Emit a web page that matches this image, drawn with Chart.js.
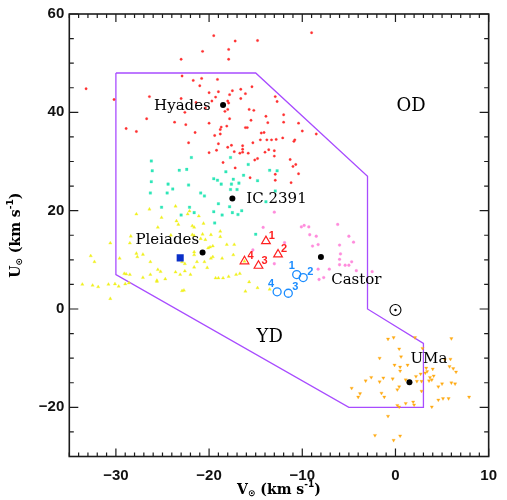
<!DOCTYPE html>
<html>
<head>
<meta charset="utf-8">
<title>U-V plane</title>
<script src="https://cdn.jsdelivr.net/npm/chart.js@4.4.1/dist/chart.umd.min.js"></script>
<style>
  html, body { margin: 0; padding: 0; background: #fff; }
  canvas { display: block; }
</style>
</head>
<body>
<canvas id="uv" width="507" height="500"></canvas>
<script>
// axis ranges and tick labels
const xRange = [-35, 10];
const yRange = [-30, 60];
const xTickValues = [-30, -20, -10, 0, 10];
const yTickValues = [-20, 0, 20, 40, 60];

// group boundary (V, U)
const boundaryV = [-30, -15, -3, -3, 3, 3, -5, -30, -30];
const boundaryU = [48, 48, 27, 0, -7, -20, -20, 7, 48];

// cluster stars, [V, U] in km/s
const hyadesStars = [
  [-19.5,55.6],[-17.2,54.5],[-14.8,54.6],[-20.7,52.4],[-17.9,52.8],[-23.0,50.8],[-17.9,50.8],[-33.2,44.8],
  [-30.2,42.6],[-22.9,47.4],[-21.7,46.5],[-20.8,46.9],[-19.1,46.7],[-21.0,45.4],[-26.4,43.2],[-23.0,42.8],
  [-20.0,44.0],[-19.0,44.2],[-19.3,43.1],[-19.7,42.3],[-17.8,43.6],[-17.5,44.4],[-18.0,42.3],[-17.9,41.9],
  [-16.6,44.7],[-16.6,42.8],[-16.1,43.8],[-15.4,45.2],[-21.4,42.0],[-20.4,40.9],[-22.6,40.0],[-26.7,38.7],
  [-28.9,36.7],[-27.8,36.1],[-23.7,38.0],[-22.5,37.5],[-20.0,37.8],[-18.0,40.6],[-18.3,40.2],[-15.7,40.6],
  [-15.2,40.4],[-18.7,37.0],[-18.8,36.5],[-18.1,37.2],[-17.8,38.7],[-16.1,36.9],[-15.9,36.9],[-21.5,35.9],
  [-19.4,35.3],[-18.8,35.6],[-22.2,33.8],[-19.0,33.6],[-17.6,33.3],[-18.0,32.9],[-15.3,33.8],[-16.4,33.2],
  [-16.4,32.5],[-16.4,31.9],[-16.7,31.7],[-17.3,32.0],[-20.0,31.8],[-19.2,32.3],[-15.8,31.7],[-18.5,29.8],
  [-17.2,28.7],[-15.1,30.3],[-14.8,30.6],[-9.0,56.2],[-12.9,43.2],[-12.7,42.2],[-13.9,39.2],[-12.0,39.5],
  [-13.7,37.9],[-12.0,38.0],[-10.4,37.8],[-10.0,36.2],[-8.5,35.6],[-15.5,38.4],[-14.4,35.8],[-14.1,35.9],
  [-14.5,34.4],[-13.8,34.4],[-13.3,34.4],[-12.8,34.5],[-12.1,34.8],[-14.0,31.9],[-13.6,32.4],[-13.0,32.2],
  [-13.0,31.1],[-10.8,34.4],[-10.9,34.1],[-11.3,30.4],[-10.7,29.4],[-11.0,29.0],[-10.4,27.5],[-15.6,26.7],
  [-12.9,27.4],[-12.9,26.2],[-11.2,25.7]
];
const ic2391Stars = [
  [-26.2,30.1],[-26.1,28.1],[-23.2,28.2],[-22.4,28.4],[-21.9,30.8],[-17.7,30.8],[-18.2,27.9],[-15.8,29.4],
  [-13.5,28.2],[-12.7,28.1],[-26.2,25.9],[-24.4,25.4],[-23.9,24.4],[-22.2,25.2],[-26.3,23.6],[-24.5,23.6],
  [-20.9,23.6],[-20.5,23.0],[-19.5,26.5],[-19.1,26.2],[-17.4,26.4],[-16.3,27.2],[-14.8,26.1],[-18.7,25.4],
  [-17.6,25.4],[-16.8,25.6],[-17.7,24.3],[-17.0,24.3],[-12.9,24.0],[-25.1,20.7],[-22.1,20.7],[-23.0,19.1],
  [-21.6,19.6],[-19.5,19.8],[-19.0,21.4],[-18.6,19.1],[-17.8,20.8],[-17.5,19.6],[-16.9,19.2],[-16.5,20.0],
  [-13.9,21.8],[-19.4,17.5],[-15.0,15.2]
];
const pleiadesStars = [
  [-23.6,20.9],[-26.4,20.3],[-27.8,19.3],[-22.1,19.9],[-25.1,18.6],[-23.5,17.9],[-23.3,17.2],[-21.1,18.9],
  [-22.3,19.3],[-25.5,16.6],[-20.6,17.4],[-28.4,14.8],[-28.5,13.4],[-30.6,13.4],[-21.8,16.9],[-21.6,16.6],
  [-21.8,15.1],[-21.6,14.9],[-20.7,15.2],[-19.8,15.1],[-18.8,14.7],[-18.8,15.8],[-24.1,15.0],[-20.9,14.3],
  [-20.4,14.1],[-19.6,12.8],[-19.9,12.6],[-20.1,12.4],[-18.1,13.1],[-17.3,13.1],[-21.6,11.6],[-21.6,11.0],
  [-19.6,10.6],[-19.8,10.3],[-18.6,10.3],[-17.4,11.0],[-21.3,9.6],[-20.5,9.6],[-22.6,9.2],[-22.9,9.6],
  [-26.3,9.6],[-27.8,11.3],[-27.1,11.1],[-27.7,10.6],[-32.7,10.8],[-32.3,9.6],[-29.6,10.3],[-29.1,7.2],
  [-28.9,7.1],[-28.5,7.0],[-28.6,5.3],[-29.0,5.1],[-29.7,4.6],[-30.1,5.1],[-30.8,5.0],[-31.9,4.5],
  [-32.5,4.8],[-33.6,5.0],[-30.6,2.1],[-26.3,7.0],[-25.5,8.0],[-25.2,7.6],[-24.7,6.1],[-25.6,5.8],
  [-25.6,5.6],[-27.1,6.4],[-23.6,7.5],[-22.6,7.7],[-22.0,7.0],[-23.1,7.0],[-21.6,8.5],[-20.2,8.4],
  [-19.3,6.3],[-19.0,6.3],[-18.5,6.3],[-17.9,6.6],[-17.1,7.0],[-16.7,7.2],[-15.7,5.5],[-16.1,3.6],
  [-22.7,3.8],[-22.9,3.7],[-14.8,4.3],[-13.5,4.0],[-16.2,9.7]
];
const castorStars = [
  [-13.0,19.7],[-14.2,16.6],[-10.1,16.7],[-9.8,17.0],[-9.3,16.7],[-6.2,17.2],[-9.2,15.1],[-8.5,14.8],
  [-11.9,13.5],[-8.3,13.1],[-8.9,12.8],[-6.0,13.0],[-5.0,14.8],[-4.5,13.6],[-5.9,11.2],[-15.3,12.0],
  [-13.0,9.2],[-8.3,8.1],[-7.1,8.1],[-7.7,6.4],[-8.2,6.0],[-6.0,9.0],[-5.4,8.9],[-5.0,8.9],
  [-4.7,9.6],[-6.0,10.1],[-4.2,7.8],[-2.5,7.6]
];
const umaStars = [
  [-0.8,-6.1],[-0.2,-5.8],[2.1,-5.8],[6.0,-6.0],[0.4,-8.1],[2.9,-8.0],[-1.7,-10.0],[0.6,-9.7],
  [5.3,-10.3],[5.9,-10.2],[-0.1,-11.4],[0.5,-11.8],[1.3,-11.4],[0.5,-12.6],[3.3,-12.0],[3.4,-12.7],
  [3.2,-13.0],[4.0,-12.2],[5.8,-11.7],[6.2,-12.1],[6.5,-12.8],[-3.2,-14.6],[-2.6,-13.9],[-1.7,-14.8],
  [-1.3,-14.0],[-0.3,-14.2],[1.1,-14.4],[2.2,-13.7],[2.7,-13.2],[2.3,-14.7],[2.8,-14.7],[3.7,-13.9],
  [3.9,-14.4],[3.6,-14.6],[4.1,-13.6],[5.0,-15.2],[4.6,-15.8],[6.0,-15.0],[6.4,-15.2],[0.4,-15.8],
  [0.2,-16.4],[-1.5,-17.1],[-1.2,-17.9],[2.8,-16.7],[-3.8,-17.2],[-4.0,-17.9],[-4.7,-16.1],[0.2,-19.6],
  [0.4,-19.9],[1.1,-19.2],[1.9,-18.9],[2.0,-19.5],[3.9,-19.9],[4.6,-18.5],[5.1,-18.2],[5.7,-18.2],
  [7.9,-17.9],[-0.8,-21.8],[-2.2,-25.7],[-0.2,-26.7],[0.5,-25.8]
];

// cluster centres and other marked objects
const centreNames = ['Hyades', 'IC 2391', 'Pleiades', 'Castor', 'UMa'];
const centreV = [-18.5, -17.5, -20.7, -8.0, 1.5];
const centreU = [41.5, 22.5, 11.5, 10.6, -14.9];
const squareV = [-23.1];
const squareU = [10.4];
const sunV = [0];
const sunU = [-0.2];
const triNumbers = ['1', '2', '3', '4'];
const triV = [-13.9, -12.6, -14.7, -16.2];
const triU = [13.8, 11.1, 8.8, 9.7];
const circNumbers = ['1', '2', '3', '4'];
const circV = [-10.6, -9.9, -11.5, -12.7];
const circU = [7.0, 6.4, 3.2, 3.5];

// text labels placed at (V, U), left edge / vertical middle
const labelTexts = ['Hyades', 'IC 2391', 'Pleiades', 'Castor', 'UMa', 'OD', 'YD'];
const labelV = [-25.9, -16.0, -27.9, -6.9, 1.6, 0.1, -14.9];
const labelU = [41.3, 22.3, 14.1, 5.8, -10.2, 41.3, -5.8];

const toXY = pairs => pairs.map(p => ({ x: p[0], y: p[1] }));
const zipXY = (vs, us) => vs.map((v, i) => ({ x: v, y: us[i] }));
const fmtTick = v => (v < 0 ? '\u2212' + Math.abs(v) : String(v));

const PURPLE = '#a84cff';
const SERIF = "'DejaVu Serif', serif";

const decorations = {
  id: 'decorations',
  afterDatasetsDraw(chart) {
    const { ctx, chartArea: a, scales: { x, y } } = chart;
    ctx.save();

    // frame with inward ticks on all four sides
    ctx.strokeStyle = '#1c1c1c';
    ctx.lineWidth = 1.6;
    ctx.strokeRect(a.left, a.top, a.right - a.left, a.bottom - a.top);
    ctx.lineWidth = 1.2;
    ctx.beginPath();
    for (let v = xRange[0]; v <= xRange[1]; v++) {
      const px = x.getPixelForValue(v);
      const len = v % 10 === 0 ? 8 : 4;
      ctx.moveTo(px, a.bottom); ctx.lineTo(px, a.bottom - len);
      ctx.moveTo(px, a.top); ctx.lineTo(px, a.top + len);
    }
    for (let u = yRange[0]; u <= yRange[1]; u += 5) {
      const py = y.getPixelForValue(u);
      const len = u % 20 === 0 ? 9 : 4.5;
      ctx.moveTo(a.left, py); ctx.lineTo(a.left + len, py);
      ctx.moveTo(a.right, py); ctx.lineTo(a.right - len, py);
    }
    ctx.stroke();

    // cluster and region names
    ctx.fillStyle = '#000';
    ctx.textBaseline = 'middle';
    ctx.textAlign = 'left';
    labelTexts.forEach((t, i) => {
      ctx.font = (t.length === 2 ? '18px ' : '15px ') + SERIF;
      ctx.fillText(t, x.getPixelForValue(labelV[i]), y.getPixelForValue(labelU[i]));
    });

    // numbers next to the open symbols
    ctx.font = 'bold 11px "Liberation Sans", sans-serif';
    ctx.textAlign = 'center';
    ctx.fillStyle = '#ff2020';
    triNumbers.forEach((t, i) => {
      ctx.fillText(t, x.getPixelForValue(triV[i]) + 6, y.getPixelForValue(triU[i]) - 5);
    });
    const circOffsets = [[-5, -9], [7, -6], [7, -6], [-6, -8]];
    ctx.fillStyle = '#1a8cff';
    circNumbers.forEach((t, i) => {
      ctx.fillText(t, x.getPixelForValue(circV[i]) + circOffsets[i][0],
        y.getPixelForValue(circU[i]) + circOffsets[i][1]);
    });

    // axis titles
    const main = 'bold 14px ' + SERIF;
    const small = 'bold 9px "DejaVu Sans", sans-serif';
    const title = sym => [
      { t: sym, f: main, dy: 0 },
      { t: '\u2299', f: small, dy: 4 },
      { t: ' (km s', f: main, dy: 0 },
      { t: '-1', f: small, dy: -5 },
      { t: ')', f: main, dy: 0 }
    ];
    const drawTitle = (parts, cx, cy, rot) => {
      ctx.save();
      ctx.translate(cx, cy);
      ctx.rotate(rot);
      ctx.fillStyle = '#000';
      ctx.textAlign = 'left';
      ctx.textBaseline = 'middle';
      let w = 0;
      parts.forEach(p => { ctx.font = p.f; w += ctx.measureText(p.t).width; });
      let px = -w / 2;
      parts.forEach(p => {
        ctx.font = p.f;
        ctx.fillText(p.t, px, p.dy);
        px += ctx.measureText(p.t).width;
      });
      ctx.restore();
    };
    drawTitle(title('V'), (a.left + a.right) / 2, 490, 0);
    drawTitle(title('U'), 16, (a.top + a.bottom) / 2, -Math.PI / 2);

    ctx.restore();
  }
};

const cloud = (data, color, style, r, rot) => ({
  data, pointStyle: style, pointRadius: r, pointRotation: rot || 0,
  backgroundColor: color, borderColor: color, borderWidth: 0.3
});

new Chart(document.getElementById('uv'), {
  type: 'scatter',
  data: {
    datasets: [
      { data: zipXY(centreV, centreU), pointRadius: 3, backgroundColor: '#000', borderColor: '#000', borderWidth: 0 },
      { data: zipXY(sunV, sunU), pointRadius: 1.2, backgroundColor: '#000', borderColor: '#000', borderWidth: 0 },
      { data: zipXY(sunV, sunU), pointRadius: 5.5, backgroundColor: 'rgba(0,0,0,0)', borderColor: '#000', borderWidth: 1.1 },
      { data: zipXY(squareV, squareU), pointStyle: 'rect', pointRadius: 5, backgroundColor: '#0a2fc8', borderColor: '#0a2fc8', borderWidth: 0 },
      { data: zipXY(triV, triU), pointStyle: 'triangle', pointRadius: 5, backgroundColor: 'rgba(0,0,0,0)', borderColor: '#ff2020', borderWidth: 1.2 },
      { data: zipXY(circV, circU), pointRadius: 4, backgroundColor: 'rgba(0,0,0,0)', borderColor: '#1a8cff', borderWidth: 1.3 },
      cloud(toXY(hyadesStars), '#ff3030', 'circle', 1.2),
      cloud(toXY(ic2391Stars), '#2ee6b8', 'rect', 1.8),
      cloud(toXY(pleiadesStars), '#f0f020', 'triangle', 1.9),
      cloud(toXY(castorStars), '#ff8cdc', 'circle', 1.4),
      cloud(toXY(umaStars), '#ffab14', 'triangle', 1.9, 180),
      {
        data: zipXY(boundaryV, boundaryU), showLine: true, pointRadius: 0,
        borderColor: PURPLE, borderWidth: 1.3, fill: false, tension: 0
      }
    ]
  },
  options: {
    responsive: false,
    animation: false,
    events: [],
    layout: { padding: { top: 6.5, right: 14.7, left: 0, bottom: 0 } },
    plugins: { legend: { display: false }, tooltip: { enabled: false } },
    scales: {
      x: {
        type: 'linear', min: xRange[0], max: xRange[1],
        grid: { display: false, drawTicks: false },
        border: { display: false },
        ticks: {
          autoSkip: false, maxRotation: 0, padding: 10, color: '#111',
          font: { family: "'Liberation Sans', sans-serif", size: 15, weight: 'bold' },
          callback: fmtTick
        },
        afterBuildTicks: s => { s.ticks = xTickValues.map(value => ({ value })); },
        afterFit: s => { s.height = 43.5; }
      },
      y: {
        type: 'linear', min: yRange[0], max: yRange[1],
        grid: { display: false, drawTicks: false },
        border: { display: false },
        ticks: {
          autoSkip: false, padding: 5, color: '#111',
          font: { family: "'Liberation Sans', sans-serif", size: 15, weight: 'bold' },
          callback: fmtTick
        },
        afterBuildTicks: s => { s.ticks = yTickValues.map(value => ({ value })); },
        afterFit: s => { s.width = 69.3; }
      }
    }
  },
  plugins: [decorations]
});
</script>
</body>
</html>
